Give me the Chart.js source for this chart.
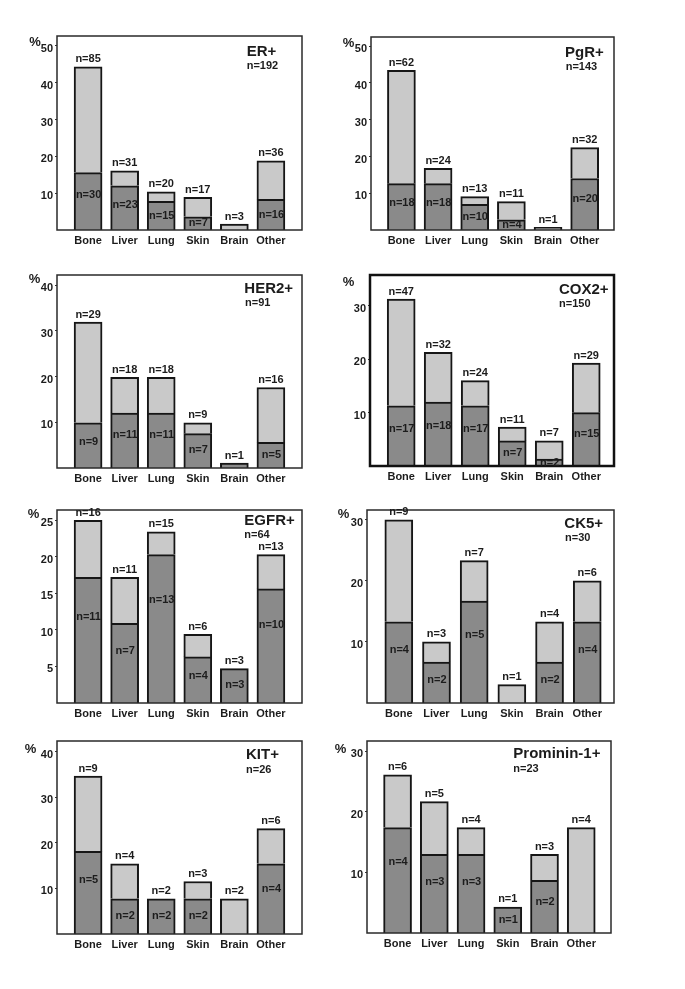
<!DOCTYPE html>
<html><head><meta charset="utf-8">
<script src="https://cdn.jsdelivr.net/npm/chart.js@4.4.0/dist/chart.umd.min.js"></script>
<style>
html,body{margin:0;padding:0;background:#fff;}
#wrap{position:relative;width:685px;height:989px;overflow:hidden;background:#fff;}
canvas{position:absolute;}
</style></head><body><div id="wrap"></div>
<script>
const sites = ['Bone','Liver','Lung','Skin','Brain','Other'];

// percentages: dark (lower) segment and light (upper) segment
const erDark  = [15.6, 12.0, 7.8, 3.6, 0, 8.3];
const erLight = [28.7, 4.1, 2.6, 5.3, 1.6, 10.5];
const erDarkN = [30, 23, 15, 7, null, 16];
const erTotalN = [85, 31, 20, 17, 3, 36];
const erTicks = [10, 20, 30, 40, 50];

const pgrDark  = [12.6, 12.6, 7.0, 2.8, 0, 14.0];
const pgrLight = [30.8, 4.2, 2.1, 4.9, 0.7, 8.4];
const pgrDarkN = [18, 18, 10, 4, null, 20];
const pgrTotalN = [62, 24, 13, 11, 1, 32];
const pgrTicks = [10, 20, 30, 40, 50];

const her2Dark  = [9.9, 12.0, 12.0, 7.5, 1.1, 5.6];
const her2Light = [22.0, 7.8, 7.8, 2.4, 0, 12.0];
const her2DarkN = [9, 11, 11, 7, null, 5];
const her2TotalN = [29, 18, 18, 9, 1, 16];
const her2Ticks = [10, 20, 30, 40];

const cox2Dark  = [11.3, 12.0, 11.3, 4.7, 1.3, 10.0];
const cox2Light = [20.0, 9.3, 4.7, 2.6, 3.4, 9.3];
const cox2DarkN = [17, 18, 17, 7, 2, 15];
const cox2TotalN = [47, 32, 24, 11, 7, 29];
const cox2Ticks = [10, 20, 30];

const egfrDark  = [17.2, 10.9, 20.3, 6.3, 4.7, 15.6];
const egfrLight = [7.8, 6.3, 3.1, 3.1, 0, 4.7];
const egfrDarkN = [11, 7, 13, 4, 3, 10];
const egfrTotalN = [16, 11, 15, 6, 3, 13];
const egfrTicks = [5, 10, 15, 20, 25];

const ck5Dark  = [13.3, 6.7, 16.7, 0, 6.7, 13.3];
const ck5Light = [16.7, 3.3, 6.6, 3.0, 6.6, 6.7];
const ck5DarkN = [4, 2, 5, null, 2, 4];
const ck5TotalN = [9, 3, 7, 1, 4, 6];
const ck5Ticks = [10, 20, 30];

const kitDark  = [18.1, 7.7, 7.7, 7.7, 0, 15.4];
const kitLight = [16.5, 7.7, 0, 3.8, 7.7, 7.7];
const kitDarkN = [5, 2, 2, 2, null, 4];
const kitTotalN = [9, 4, 2, 3, 2, 6];
const kitTicks = [10, 20, 30, 40];

const promDark  = [17.4, 13.0, 13.0, 4.3, 8.7, 0];
const promLight = [8.7, 8.7, 4.4, 0, 4.3, 17.4];
const promDarkN = [4, 3, 3, 1, 2, null];
const promTotalN = [6, 5, 4, 1, 3, 4];
const promTicks = [10, 20, 30];

const panels = [
  {title:'ER+', n:'n=192', dark:erDark, light:erLight, darkN:erDarkN, totalN:erTotalN, ticks:erTicks,
   frame:[57,36,302,229.5], yMax:52.7, xMin:-0.85, xMax:5.85, titleXY:[246.7,51.7], nXY:[246.7,66], pctXY:[35,42], fw:1.5},
  {title:'PgR+', n:'n=143', dark:pgrDark, light:pgrLight, darkN:pgrDarkN, totalN:pgrTotalN, ticks:pgrTicks,
   frame:[371,37,614,229.8], yMax:52.5, xMin:-0.83, xMax:5.80, titleXY:[565,53.3], nXY:[565.7,66.7], pctXY:[348.5,43], fw:1.5},
  {title:'HER2+', n:'n=91', dark:her2Dark, light:her2Light, darkN:her2DarkN, totalN:her2TotalN, ticks:her2Ticks,
   frame:[57,274.5,302,467.6], yMax:42.2, xMin:-0.85, xMax:5.85, titleXY:[244.3,288.3], nXY:[245,302.7], pctXY:[34.5,278.5], fw:1.5},
  {title:'COX2+', n:'n=150', dark:cox2Dark, light:cox2Light, darkN:cox2DarkN, totalN:cox2TotalN, ticks:cox2Ticks,
   frame:[370,274.5,614,465.5], yMax:35.8, xMin:-0.843, xMax:5.75, titleXY:[559,289], nXY:[559,303.3], pctXY:[348.5,282], fw:2.5},
  {title:'EGFR+', n:'n=64', dark:egfrDark, light:egfrLight, darkN:egfrDarkN, totalN:egfrTotalN, ticks:egfrTicks,
   frame:[57,509.5,302,702.5], yMax:26.4, xMin:-0.85, xMax:5.85, titleXY:[244.3,520], nXY:[244.3,534.3], pctXY:[33.5,513.5], fw:1.5},
  {title:'CK5+', n:'n=30', dark:ck5Dark, light:ck5Light, darkN:ck5DarkN, totalN:ck5TotalN, ticks:ck5Ticks,
   frame:[367,509.5,614,702.3], yMax:31.6, xMin:-0.844, xMax:5.71, titleXY:[564.3,523.3], nXY:[565,537.7], pctXY:[343.5,513.5], fw:1.5},
  {title:'KIT+', n:'n=26', dark:kitDark, light:kitLight, darkN:kitDarkN, totalN:kitTotalN, ticks:kitTicks,
   frame:[57,740.5,302,933.2], yMax:42.3, xMin:-0.85, xMax:5.85, titleXY:[246,754], nXY:[246,769.3], pctXY:[30.5,748.5], fw:1.5},
  {title:'Prominin-1+', n:'n=23', dark:promDark, light:promLight, darkN:promDarkN, totalN:promTotalN, ticks:promTicks,
   frame:[367,740.5,610.5,932.2], yMax:31.7, xMin:-0.832, xMax:5.81, titleXY:[513.3,753.3], nXY:[513.3,768.3], pctXY:[340.5,748.5], fw:1.5}
];

const FONT = "'Liberation Sans', Arial, Helvetica, sans-serif";
const TXT = '#1c1c1c';
const DARK = '#8a8a8a';
const LIGHT = '#c9c9c9';
const EDGE = '#161616';
const AXW = 36, PADT = 10, PADR = 4, XH = 22;

const wrap = document.getElementById('wrap');

panels.forEach(p => {
  const [L, T, R, B] = p.frame;
  const cl = L - AXW, ct = T - PADT;
  const cw = (R - L) + AXW + PADR;
  const ch = (B - T) + PADT + XH;
  const cv = document.createElement('canvas');
  cv.width = Math.round(cw); cv.height = Math.round(ch);
  cv.style.left = cl + 'px'; cv.style.top = ct + 'px';
  cv.style.width = Math.round(cw) + 'px'; cv.style.height = Math.round(ch) + 'px';
  wrap.appendChild(cv);

  const mk = arr => arr.map((v, i) => ({x: i, y: v === 0 ? null : v}));

  const plug = {
    id: 'panelDeco',
    afterDraw(chart) {
      const ctx = chart.ctx, ca = chart.chartArea;
      const xs = chart.scales.x, ys = chart.scales.y;
      ctx.save();
      ctx.strokeStyle = p.fw > 2 ? '#111' : '#2a2a2a';
      ctx.lineWidth = p.fw;
      ctx.strokeRect(ca.left, ca.top, ca.right - ca.left, ca.bottom - ca.top);
      ctx.fillStyle = TXT;
      ctx.textBaseline = 'middle';
      ctx.textAlign = 'center';
      ctx.font = 'bold 11px ' + FONT;
      for (let i = 0; i < sites.length; i++) {
        const cx = xs.getPixelForValue(i);
        const tot = p.dark[i] + p.light[i];
        const yTop = ys.getPixelForValue(tot);
        ctx.fillText('n=' + p.totalN[i], cx, yTop - 7.5);
        if (p.darkN[i] != null && p.dark[i] > 0) {
          const dt = ys.getPixelForValue(p.dark[i]);
          const db = ys.getPixelForValue(0);
          const h = db - dt;
          const off = Math.min(h / 2, 0.25 * h + 8);
          ctx.fillText('n=' + p.darkN[i], cx + 0.5, dt + off);
        }
      }
      ctx.textAlign = 'left';
      ctx.font = 'bold 15px ' + FONT;
      ctx.fillText(p.title, p.titleXY[0] - cl, p.titleXY[1] - ct);
      ctx.font = 'bold 11px ' + FONT;
      ctx.fillText(p.n, p.nXY[0] - cl, p.nXY[1] - ct);
      ctx.textAlign = 'center';
      ctx.font = 'bold 13px ' + FONT;
      ctx.fillText('%', p.pctXY[0] - cl, p.pctXY[1] - ct);
      ctx.restore();
    }
  };

  new Chart(cv, {
    type: 'bar',
    data: {
      labels: sites,
      datasets: [
        {label: 'dark', data: mk(p.dark), backgroundColor: DARK, borderColor: EDGE, borderWidth: 2, barThickness: 28, stack: 's'},
        {label: 'light', data: mk(p.light), backgroundColor: LIGHT, borderColor: EDGE, borderWidth: 2, barThickness: 28, stack: 's'}
      ]
    },
    options: {
      responsive: false,
      animation: false,
      events: [],
      layout: {padding: {top: PADT, right: PADR, left: 0, bottom: 0}},
      plugins: {legend: {display: false}, tooltip: {enabled: false}, title: {display: false}},
      scales: {
        x: {
          type: 'linear', min: p.xMin, max: p.xMax, stacked: true, offset: false, bounds: 'data',
          afterBuildTicks: s => { s.ticks = sites.map((_, i) => ({value: i})); },
          afterFit: s => { s.height = XH; },
          ticks: {callback: v => sites[v] ?? '', autoSkip: false, maxRotation: 0, padding: 4,
                  color: TXT, font: {family: FONT, size: 11, weight: 'bold'}},
          grid: {display: false, drawTicks: false, offset: false},
          border: {display: false}
        },
        y: {
          min: 0, max: p.yMax, stacked: true, bounds: 'data',
          afterBuildTicks: s => { s.ticks = p.ticks.map(v => ({value: v})); },
          afterFit: s => { s.width = AXW; },
          ticks: {padding: 2, labelOffset: 3, color: TXT, font: {family: FONT, size: 11, weight: 'bold'}},
          grid: {drawOnChartArea: false, drawTicks: true, tickLength: 2, color: '#333', lineWidth: 1},
          border: {display: false}
        }
      }
    },
    plugins: [plug]
  });
});
</script></body></html>
